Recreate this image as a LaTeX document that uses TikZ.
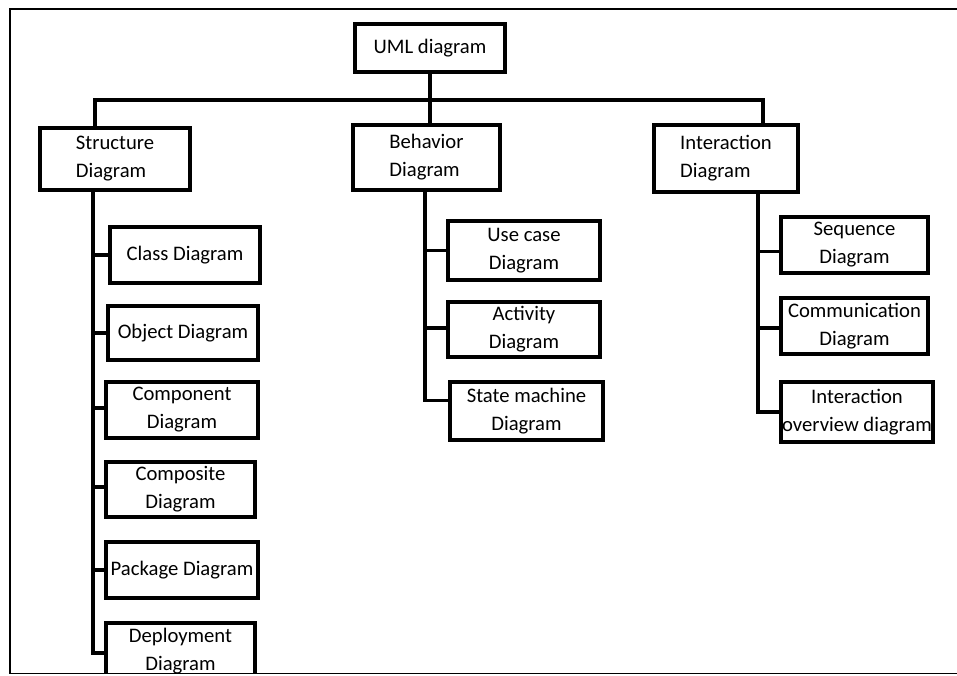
\documentclass[tikz,border=0pt]{standalone}
\usepackage{fontspec}
\setmainfont{Carlito}
\begin{document}
\begin{tikzpicture}[x=0.75pt,y=-0.75pt,
  box/.style={draw, line width=2.6pt, inner sep=0pt, fill=white,
    font=\fontsize{15.5}{21}\selectfont, align=center},
  lbox/.style={box, align=left},
  conn/.style={line width=2.6pt},
  frame/.style={line width=2.2pt}]
\useasboundingbox (0,0) rectangle (957,675);
\begin{scope}
\clip (0,0) rectangle (957,673);
% frame
\draw[frame] (10,674) -- (10,9) -- (958,9);
% top
\node[box, minimum width=112.5pt, minimum height=36pt] (uml) at (430,48) {UML diagram};
\node[lbox, minimum width=112.5pt, minimum height=46.5pt] (str) at (115,159) {Structure\\Diagram};
\node[lbox, minimum width=110.25pt, minimum height=48.75pt] (beh) at (426.5,157.5) {Behavior\\Diagram};
\node[lbox, minimum width=108pt, minimum height=50.25pt] (int) at (726,158.5) {Interaction\\Diagram};
% structure children
\node[box, minimum width=112.5pt, minimum height=42pt] (cls) at (185,255) {Class Diagram};
\node[box, minimum width=112.5pt, minimum height=40.5pt] (obj) at (183,333) {Object Diagram};
\node[box, minimum width=114pt, minimum height=42pt] (cmp) at (182,410) {Component\\Diagram};
\node[box, minimum width=111.75pt, minimum height=41.25pt] (csd) at (180.5,489.5) {Composite\\Diagram};
\node[box, minimum width=114pt, minimum height=42pt] (pkg) at (182,570) {Package Diagram};
\node[box, minimum width=111.75pt, minimum height=42pt] (dep) at (180.5,651) {Deployment\\Diagram};
% behavior children
\node[box, minimum width=114pt, minimum height=44.25pt] (use) at (524,250.5) {Use case\\Diagram};
\node[box, minimum width=114pt, minimum height=41.25pt] (act) at (524,329.5) {Activity\\Diagram};
\node[box, minimum width=114.75pt, minimum height=43.5pt] (stm) at (526.5,411) {State machine\\Diagram};
% interaction children
\node[box, minimum width=110.25pt, minimum height=42pt] (seq) at (854.5,245) {Sequence\\Diagram};
\node[box, minimum width=110.25pt, minimum height=42pt] (com) at (854.5,326) {Communication\\Diagram};
\node[box, minimum width=114pt, minimum height=45pt] (ovw) at (857,412) {Interaction\\overview diagram};
% connectors top
\coordinate (busL) at (95,100);
\coordinate (busR) at (763,100);
\draw[conn] (str.north -| busL) -- (busL) -- (busR) -- (busR |- int.north);
\draw[conn] (uml.south) -- (uml.south |- beh.north);
% structure trunk
\coordinate (sT) at (93,190);
\draw[conn] (sT) -- (sT |- 0,653) -- (dep.west |- 0,653);
\draw[conn] (sT |- cls.west) -- (cls.west);
\draw[conn] (sT |- obj.west) -- (obj.west);
\draw[conn] ([yshift=1.5pt]sT |- cmp.west) -- ([yshift=1.5pt]cmp.west);
\draw[conn] ([yshift=2pt]sT |- csd.west) -- ([yshift=2pt]csd.west);
\draw[conn] (sT |- pkg.west) -- (pkg.west);
% behavior trunk
\coordinate (bT) at (425,190);
\draw[conn] (bT) -- ([yshift=8pt]bT |- stm.west) -- ([yshift=8pt]stm.west);
\draw[conn] (bT |- use.west) -- (use.west);
\draw[conn] ([yshift=1pt]bT |- act.west) -- ([yshift=1pt]act.west);
% interaction trunk
\coordinate (iT) at (758,192);
\draw[conn] (iT) -- (iT |- ovw.west) -- (ovw.west);
\draw[conn] ([yshift=-5pt]iT |- seq.west) -- ([yshift=-5pt]seq.west);
\draw[conn] ([yshift=-1.5pt]iT |- com.west) -- ([yshift=-1.5pt]com.west);
\end{scope}
\draw[line width=1.2pt] (10,673.5) -- (957,673.5);
\end{tikzpicture}
\end{document}
